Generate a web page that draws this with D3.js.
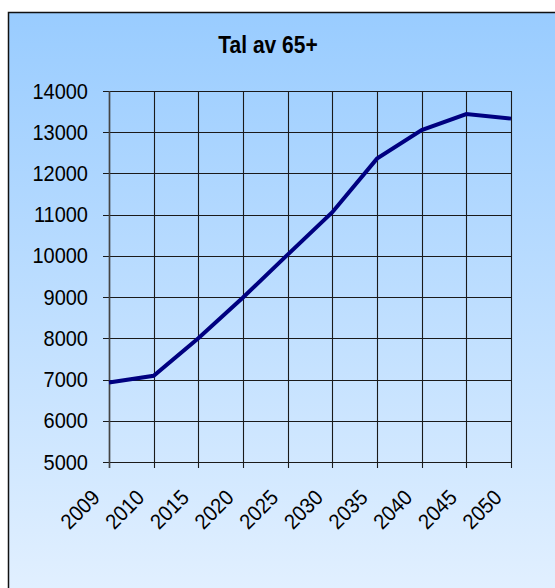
<!DOCTYPE html>
<html>
<head>
<meta charset="utf-8">
<script src="https://cdn.jsdelivr.net/npm/d3@7"></script>
<style>
  body { margin: 0; background: #fff; }
  svg { display: block; }
</style>
</head>
<body>
<script>
// Width and Height
const w = 555;
const h = 588;

// Data
const years = ["2009", "2010", "2015", "2020", "2025", "2030", "2035", "2040", "2045", "2050"];
const values = [6930, 7090, 8000, 8990, 10030, 11060, 12360, 13050, 13440, 13330];
const yTicks = [5000, 6000, 7000, 8000, 9000, 10000, 11000, 12000, 13000, 14000];

// Plot box (window.top is taken, so use other names)
const plotL = 109, plotR = 511, plotT = 91, plotB = 462;
const font = "Liberation Sans, Arial, sans-serif";

const svg = d3.select("body")
    .append("svg")
    .attr("width", w)
    .attr("height", h);

// background gradient
const grad = svg.append("defs").append("linearGradient")
    .attr("id", "bg")
    .attr("x1", 0).attr("y1", 0).attr("x2", 0).attr("y2", 1);
grad.append("stop").attr("offset", "0%").attr("stop-color", "#99ccff");
grad.append("stop").attr("offset", "100%").attr("stop-color", "#e4f1ff");

svg.append("rect")
    .attr("x", 8.5).attr("y", 12.5)
    .attr("width", w + 10).attr("height", h + 10)
    .attr("fill", "url(#bg)")
    .attr("stroke", "#111")
    .attr("stroke-width", 1.5);

// Title (glyphs a bit taller than wide in the original)
svg.append("text")
    .attr("transform", "translate(268,53) scale(1,1.15)")
    .attr("text-anchor", "middle")
    .style("font-family", font)
    .style("font-weight", "bold")
    .style("font-size", "21px")
    .text("Tal av 65+");

// Scales
const x = d3.scalePoint()
    .domain(years)
    .range([plotL, plotR]);

const y = d3.scaleLinear()
    .domain([5000, 14000])
    .range([plotB, plotT]);

// horizontal gridlines
svg.append("g")
    .selectAll("line")
    .data(yTicks)
    .enter()
    .append("line")
    .attr("x1", plotL - 6)
    .attr("x2", plotR)
    .attr("y1", d => Math.round(y(d)) + 0.5)
    .attr("y2", d => Math.round(y(d)) + 0.5)
    .attr("stroke", "#1a1a1a")
    .attr("stroke-width", 1.2);

// vertical gridlines
svg.append("g")
    .selectAll("line")
    .data(years)
    .enter()
    .append("line")
    .attr("x1", d => Math.round(x(d)) + 0.5)
    .attr("x2", d => Math.round(x(d)) + 0.5)
    .attr("y1", plotT)
    .attr("y2", plotB + 6)
    .attr("stroke", "#1a1a1a")
    .attr("stroke-width", 1.1);

// left axis slightly heavier
svg.append("line")
    .attr("x1", plotL + 0.5).attr("x2", plotL + 0.5)
    .attr("y1", plotT).attr("y2", plotB + 6)
    .attr("stroke", "#444")
    .attr("stroke-width", 1.6);

// y tick labels
svg.append("g")
    .selectAll("text")
    .data(yTicks)
    .enter()
    .append("text")
    .attr("transform", d => "translate(88," + (y(d) + 7.5) + ") scale(1,1.1)")
    .attr("text-anchor", "end")
    .style("font-family", font)
    .style("font-size", "20px")
    .text(d => d);

// x tick labels
svg.append("g")
    .selectAll("text")
    .data(years)
    .enter()
    .append("text")
    .attr("transform", d => "translate(" + (x(d) - 8) + "," + 499 + ") rotate(-45) scale(1,1.08)")
    .attr("text-anchor", "end")
    .style("font-family", font)
    .style("font-size", "20px")
    .text(d => d);

// the line
const line = d3.line()
    .x((d, i) => x(years[i]))
    .y(d => y(d));

svg.append("path")
    .datum(values)
    .attr("d", line)
    .attr("fill", "none")
    .attr("stroke", "#000080")
    .attr("stroke-width", 4)
    .attr("stroke-linejoin", "miter");
</script>
</body>
</html>
